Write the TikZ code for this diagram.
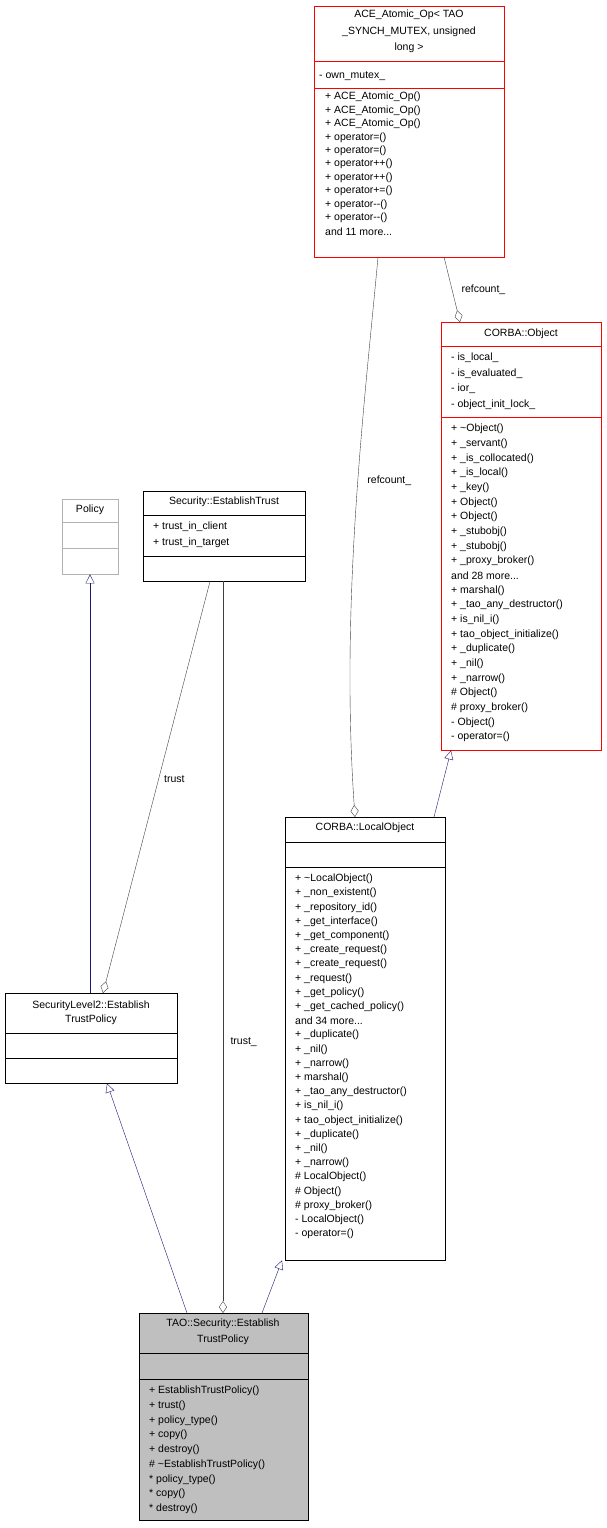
\documentclass[tikz,border=0pt]{standalone}
\usepackage{fontspec}
\setmainfont{Liberation Sans}
\usetikzlibrary{arrows.meta}

\definecolor{inhcol}{HTML}{191970}
\definecolor{usecol}{HTML}{404040}
\newcommand\andmore[1]{and #1 more.{}.{}.}

\begin{document}
\begin{tikzpicture}[x=1pt,y=-1pt,
    cls/.style={draw=black,fill=white,anchor=north west,inner sep=0pt},
    txt/.style={anchor=west,inner sep=0pt,font=\fontsize{10.5}{12}\selectfont},
    ctr/.style={inner sep=0pt,font=\fontsize{10.5}{12}\selectfont},
    inherit/.style={draw=inhcol,-{Triangle[open,length=9pt,width=9pt]}},
    member/.style={draw=usecol,-{Diamond[open,length=12pt,width=8pt]}}]
  \useasboundingbox (0,0) rectangle (607,1528);

  % classes
  \node[cls,draw=red,minimum width=190pt,minimum height=251pt] (ace) at (314,6) {};
  \node[cls,draw=red,minimum width=160pt,minimum height=428pt] (obj) at (441,322) {};
  \node[cls,draw=black!30,minimum width=56pt,minimum height=75pt] (policy) at (62,499) {};
  \node[cls,minimum width=162pt,minimum height=90pt] (trust) at (143,491) {};
  \node[cls,minimum width=172pt,minimum height=90pt] (sl2) at (5,993) {};
  \node[cls,minimum width=160pt,minimum height=443pt] (local) at (285,817) {};
  \node[cls,fill=black!25,minimum width=169pt,minimum height=207pt] (tao) at (139,1313) {};

  % separators
  \draw[red] (314,61) -- (504,61) (314,88) -- (504,88);
  \draw[red] (441,346) -- (601,346) (441,417) -- (601,417);
  \draw[black!30] (62,522) -- (118,522) (62,548) -- (118,548);
  \draw (143,515) -- (305,515) (143,556) -- (305,556);
  \draw (5,1033) -- (177,1033) (5,1058) -- (177,1058);
  \draw (285,842) -- (445,842) (285,867) -- (445,867);
  \draw (139,1353) -- (308,1353) (139,1379) -- (308,1379);

  % titles
  \node[ctr] at (409,15) {ACE\_Atomic\_Op< TAO};
  \node[ctr] at (409,32) {\_SYNCH\_MUTEX, unsigned};
  \node[ctr] at (409,48) {long >};
  \node[ctr] at (521,334) {CORBA::Object};
  \node[ctr] at (90,510) {Policy};
  \node[ctr] at (224,502) {Security::EstablishTrust};
  \node[ctr] at (91,1006) {SecurityLevel2::Establish};
  \node[ctr] at (91,1020) {TrustPolicy};
  \node[ctr] at (365,828) {CORBA::LocalObject};
  \node[ctr] at (223,1324) {TAO::Security::Establish};
  \node[ctr] at (223,1340) {TrustPolicy};

  % members
  \node[txt] at (319,76) {- own\_mutex\_};
  \foreach \t [count=\i from 0] in {+ ACE\_Atomic\_Op(),+ ACE\_Atomic\_Op(),
      + ACE\_Atomic\_Op(),+ operator=(),+ operator=(),+ operator++(),
      + operator++(),+ operator+=(),+ operator{-}{-}(),+ operator{-}{-}(),
      \andmore{11}}
    \node[txt] at (325,97+13.45*\i) {\t};
  \foreach \t [count=\i from 0] in {- is\_local\_,- is\_evaluated\_,- ior\_,
      - object\_init\_lock\_}
    \node[txt] at (451,358+15.6*\i) {\t};
  \foreach \t [count=\i from 0] in {+ \textasciitilde Object(),+ \_servant(),
      + \_is\_collocated(),+ \_is\_local(),+ \_key(),+ Object(),+ Object(),
      + \_stubobj(),+ \_stubobj(),+ \_proxy\_broker(),\andmore{28},
      + marshal(),+ \_tao\_any\_destructor(),+ is\_nil\_i(),
      + tao\_object\_initialize(),+ \_duplicate(),+ \_nil(),+ \_narrow(),
      \# Object(),\# proxy\_broker(),- Object(),- operator=()}
    \node[txt] at (451,429+14.67*\i) {\t};
  \node[txt] at (153,527) {+ trust\_in\_client};
  \node[txt] at (153,543) {+ trust\_in\_target};
  \foreach \t [count=\i from 0] in {+ \textasciitilde LocalObject(),
      + \_non\_existent(),+ \_repository\_id(),+ \_get\_interface(),
      + \_get\_component(),+ \_create\_request(),+ \_create\_request(),
      + \_request(),+ \_get\_policy(),+ \_get\_cached\_policy(),
      \andmore{34},+ \_duplicate(),+ \_nil(),+ \_narrow(),+ marshal(),
      + \_tao\_any\_destructor(),+ is\_nil\_i(),+ tao\_object\_initialize(),
      + \_duplicate(),+ \_nil(),+ \_narrow(),\# LocalObject(),\# Object(),
      \# proxy\_broker(),- LocalObject(),- operator=()}
    \node[txt] at (295,879+14.2*\i) {\t};
  \foreach \t [count=\i from 0] in {+ EstablishTrustPolicy(),+ trust(),
      + policy\_type(),+ copy(),+ destroy(),
      \# \textasciitilde EstablishTrustPolicy(),* policy\_type(),* copy(),
      * destroy()}
    \node[txt] at (149,1391+14.75*\i) {\t};

  % connectors
  \coordinate (aceA) at (378,257);
  \coordinate (aceB) at (444,257);
  \draw[member] (aceA) .. controls (365,400) and (340,600) .. (local.north -| 355,0)
    node[pos=0.45,right=6pt,font=\fontsize{10.5}{12}\selectfont,text=black] {refcount\_};
  \draw[member] (aceB) -- (obj.north -| 460,0)
    node[midway,right=6pt,font=\fontsize{10.5}{12}\selectfont,text=black] {refcount\_};
  \draw[inherit] (local.north -| 434,0) -- (obj.south -| 451,0);
  \draw[inherit] (sl2.north -| 90,0) -- (policy.south -| 90,0);
  \draw[member] (trust.south -| 210,0) -- (sl2.north -| 103,0)
    node[pos=0.48,right=2pt,font=\fontsize{10.5}{12}\selectfont] {trust};
  \draw[member] (trust.south -| 223,0) -- (tao.north -| 223,0)
    node[pos=0.63,right=4pt,font=\fontsize{10.5}{12}\selectfont] {trust\_};
  \draw[inherit] (tao.north -| 187,0) -- (sl2.south -| 107,0);
  \draw[inherit] (tao.north -| 262,0) -- (local.south -| 282,0);
\end{tikzpicture}
\end{document}
